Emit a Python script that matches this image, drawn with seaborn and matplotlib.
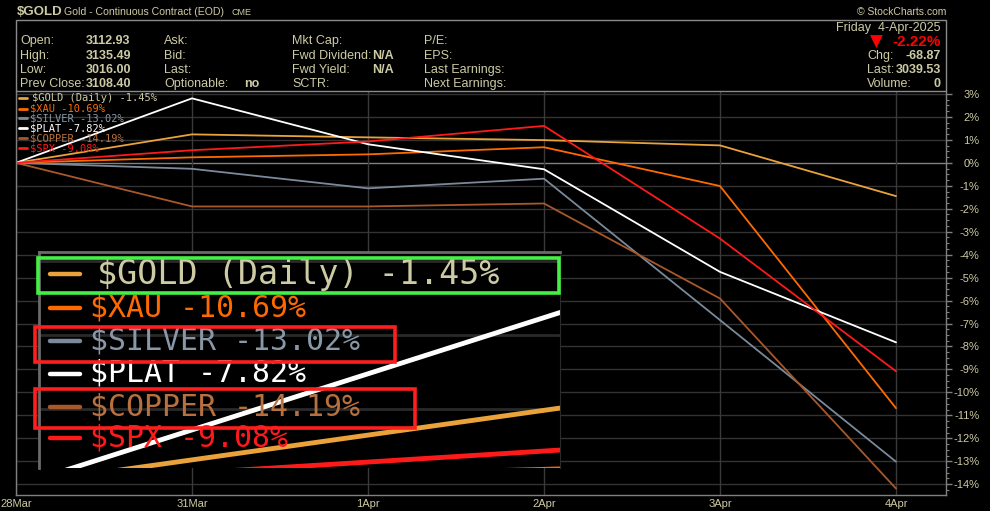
import matplotlib
matplotlib.use("Agg")
import matplotlib.pyplot as plt
from matplotlib.patches import Rectangle
from matplotlib.lines import Line2D
from matplotlib.ticker import MultipleLocator
import numpy as np
import pandas as pd
import seaborn as sns

# --- data (% change since 28Mar) ---
dates = ["28Mar", "31Mar", "1Apr", "2Apr", "3Apr", "4Apr"]
symbols = ["$GOLD", "$XAU", "$SILVER", "$PLAT", "$COPPER", "$SPX"]
gold = [0, 1.24, 1.11, 0.99, 0.76, -1.45]
xau = [0, 0.24, 0.37, 0.68, -1.01, -10.69]
silver = [0, -0.26, -1.11, -0.69, -6.85, -13.02]
plat = [0, 2.81, 0.81, -0.28, -4.75, -7.82]
copper = [0, -1.90, -1.90, -1.77, -5.91, -14.19]
spx = [0, 0.55, 0.93, 1.61, -3.30, -9.08]
legend_labels = ["$GOLD (Daily) -1.45%", "$XAU -10.69%", "$SILVER -13.02%",
                 "$PLAT -7.82%", "$COPPER -14.19%", "$SPX -9.08%"]
y_ticks = list(range(-14, 4))

quote_labels = [["Open:", "High:", "Low:", "Prev Close:"],
                ["Ask:", "Bid:", "Last:", "Optionable:"],
                ["Mkt Cap:", "Fwd Dividend:", "Fwd Yield:", "SCTR:"],
                ["P/E:", "EPS:", "Last Earnings:", "Next Earnings:"]]
quote_values = ["3112.93", "3135.49", "3016.00", "3108.40"]

line_colors = ["#eaa23a", "#ff6a00", "#7a8a9a", "#ffffff", "#a8582a", "#ff1a1a"]
text_colors = ["#cdcba4", "#ff6a00", "#8898a8", "#ffffff", "#b8703e", "#ff1a1a"]
TAN = "#cdcba4"

df = pd.DataFrame({
    "pos": list(range(len(dates))) * len(symbols),
    "pct": gold + xau + silver + plat + copper + spx,
    "symbol": np.repeat(symbols, len(dates)),
})

sns.set_style("dark")
plt.rcParams["font.family"] = ["Liberation Sans", "DejaVu Sans"]

W, H = 990, 511
fig = plt.figure(figsize=(W / 100, H / 100), dpi=100, facecolor="black")


def fpos(x, y):
    return x / W, 1 - y / H


def ftext(x, y, s, **kw):
    kw.setdefault("color", TAN)
    kw.setdefault("fontsize", 9)
    kw.setdefault("va", "center")
    fig.text(x / W, 1 - y / H, s, **kw)


# --- main chart ---
ax = fig.add_axes([16 / W, 1 - 495 / H, (946 - 16) / W, (495 - 91) / H])
ax.set_facecolor("black")
for y in y_ticks:
    ax.axhline(y, color="#808080" if y == 0 else "#333333", lw=1, zorder=0)
for i in range(len(dates)):
    ax.axvline(i, color="#3a3a3a", lw=1, zorder=0)
sns.lineplot(data=df, x="pos", y="pct", hue="symbol", hue_order=symbols,
             palette=line_colors, legend=False, ax=ax, linewidth=1.3)
ax.set_xlim(0, 5.284)
ax.set_ylim(-14.47, 3.13)
ax.set_xlabel("")
ax.set_ylabel("")
ax.set_xticks(range(len(dates)))
ax.set_xticklabels(dates)
ax.set_yticks(y_ticks)
ax.set_yticklabels([f"{v}%" for v in y_ticks])
ax.yaxis.tick_right()
ax.yaxis.set_minor_locator(MultipleLocator(0.25))
ax.tick_params(axis="x", length=0, pad=3, labelsize=8, labelcolor=TAN)
ax.tick_params(axis="y", which="major", length=4, width=1, color="#808080",
               pad=20, labelsize=8, labelcolor=TAN)
ax.tick_params(axis="y", which="minor", length=2, width=0.8, color="#808080")
for lab in ax.get_yticklabels():
    lab.set_horizontalalignment("right")
ax.grid(False)
for side in ["left", "bottom", "right"]:
    ax.spines[side].set_color("#808080")
    ax.spines[side].set_linewidth(1)
ax.spines["top"].set_visible(False)

# small legend on the chart
small_rows = [98.3, 108.7, 118.3, 128.3, 138.3, 148.3]
for i, (lbl, y) in enumerate(zip(legend_labels, small_rows)):
    fig.add_artist(Line2D([19 / W, 27 / W], [1 - y / H] * 2, color=line_colors[i],
                          lw=2, zorder=4))
    ftext(32 if i == 0 else 30, y, lbl, color=text_colors[i], fontsize=7.5,
          family="DejaVu Sans Mono", zorder=4)

# --- header ---
ftext(17, 12, "$GOLD", fontsize=9.5, weight="bold")
ftext(64, 12, "Gold - Continuous Contract (EOD)", fontsize=7.6)
ftext(231, 12.5, "CME", fontsize=6.5)
ftext(946, 12, "\u00a9 StockCharts.com", fontsize=7.5, ha="right")
fig.add_artist(Rectangle(fpos(16, 91), (946 - 16) / W, (91 - 20) / H,
                         transform=fig.transFigure, fill=False,
                         edgecolor="#8a8a8a", lw=1))
row_y = [41, 56, 70, 84]
col_x = [20, 164, 292, 424]
for cx, labels in zip(col_x, quote_labels):
    for ry, lbl in zip(row_y, labels):
        ftext(cx, ry, lbl)
for ry, v in zip(row_y, quote_values):
    ftext(86, ry, v, weight="bold")
ftext(244, 84, "no", weight="bold")
ftext(372, 56, "N/A", weight="bold")
ftext(372, 70, "N/A", weight="bold")

ftext(941, 27.5, "Friday  4-Apr-2025", ha="right", fontsize=9)
ftext(876, 42, "\u25bc", ha="center", color="#ff0000", fontsize=12, family="DejaVu Sans")
ftext(941, 41.5, "-2.22%", ha="right", color="#ff0000", fontsize=11, weight="bold")
ftext(867, 56, "Chg:")
ftext(941, 56, "-68.87", ha="right", weight="bold")
ftext(867, 70, "Last:")
ftext(941, 70, "3039.53", ha="right", weight="bold")
ftext(867, 84, "Volume:")
ftext(941, 84, "0", ha="right", weight="bold")

# --- magnified legend inset ---
axin = fig.add_axes([39 / W, 1 - 468 / H, (560 - 39) / W, (468 - 252) / H], zorder=5)
axin.set_facecolor("black")
for y in [1, 2, 3]:
    axin.axhline(y, color="#2a2a2a", lw=2, zorder=0)
sns.lineplot(data=df, x="pos", y="pct", hue="symbol", hue_order=symbols,
             palette=line_colors, legend=False, ax=axin, linewidth=3.5)
axin.set_xlim(0.023, 0.819)
axin.set_ylim(0.209, 3.116)
axin.set_xticks([])
axin.set_yticks([])
axin.set_xlabel("")
axin.set_ylabel("")
axin.grid(False)
for side in ["left", "top"]:
    axin.spines[side].set_color("#6a6a6a")
    axin.spines[side].set_linewidth(2)
axin.spines["bottom"].set_visible(False)
axin.spines["right"].set_color("#2a2a2a")

big_rows = [274.3, 308.3, 341.0, 373.5, 406.7, 438.3]
for i, (lbl, y) in enumerate(zip(legend_labels, big_rows)):
    fig.add_artist(Line2D([50 / W, 80 / W], [1 - y / H] * 2, color=line_colors[i],
                          lw=3.2, zorder=10))
    ftext(97 if i == 0 else 90, y, lbl, color=text_colors[i],
          fontsize=24 if i == 0 else 21.5, family="DejaVu Sans Mono", zorder=10)

boxes = [((38.3, 257.7), (559.3, 293.3), "#44f044"),
         ((35, 326.7), (395, 361.7), "#ff1e1e"),
         ((35, 389.3), (415, 427.7), "#ff1e1e")]
for (x0, y0), (x1, y1), c in boxes:
    fig.add_artist(Rectangle(fpos(x0, y1), (x1 - x0) / W, (y1 - y0) / H,
                             transform=fig.transFigure, fill=False,
                             edgecolor=c, lw=2.6, zorder=11))

fig.savefig("out.png", dpi=100, facecolor="black")
